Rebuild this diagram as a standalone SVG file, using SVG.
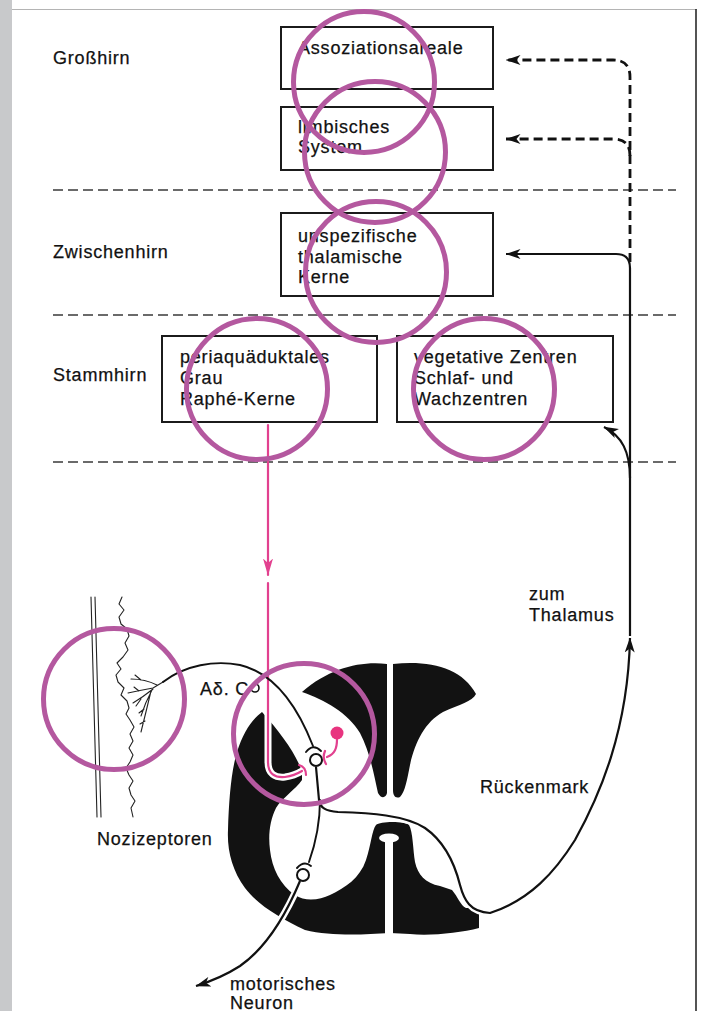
<svg xmlns="http://www.w3.org/2000/svg" width="702" height="1011" viewBox="0 0 702 1011">
  <defs>
    <style>
      .t{font-family:"Liberation Sans",Arial,Helvetica,sans-serif;font-size:18px;fill:#111;stroke:#111;stroke-width:0.25;letter-spacing:0.8px}
      .box{fill:#fff;stroke:#1b1b1b;stroke-width:2}
      .sep{fill:none;stroke:#3a3a3a;stroke-width:1.6;stroke-dasharray:10 5}
      .dash{fill:none;stroke:#111;stroke-width:2.8;stroke-dasharray:9 5}
      .solid{fill:none;stroke:#111;stroke-width:2.2}
      .case{fill:none;stroke:#fff;stroke-width:7;stroke-linecap:round}
      .nerve{fill:none;stroke:#111;stroke-width:1.9;stroke-linecap:round}
      .fine{fill:none;stroke:#222;stroke-width:1.1;stroke-linecap:round;stroke-linejoin:round}
      .pink{fill:none;stroke:#e2418f;stroke-width:2.2;stroke-linecap:round}
      .gm{fill:#121212}
      .cell{fill:#fff;stroke:#111;stroke-width:2}
      .ring{fill:none;stroke:#b4589f;stroke-width:5}
    </style>
    <marker id="ah" viewBox="0 0 15 11" refX="14.5" refY="5.5" markerWidth="15" markerHeight="11" markerUnits="userSpaceOnUse" orient="auto">
      <path d="M0,0.5 L15,5.5 L0,10.5 L4,5.5 Z" fill="#111"/>
    </marker>
    <marker id="ahp" viewBox="0 0 17 11" refX="16.5" refY="5.5" markerWidth="17" markerHeight="11" markerUnits="userSpaceOnUse" orient="auto">
      <path d="M0,0.5 L17,5.5 L0,10.5 L4.5,5.5 Z" fill="#e2418f"/>
    </marker>
  </defs>

  <!-- page -->
  <rect x="0" y="0" width="702" height="1011" fill="#fff"/>
  <rect x="0" y="0" width="12" height="1011" fill="#c8c9cb"/>
  <line x1="12" y1="9.5" x2="697" y2="9.5" stroke="#b4b4b4" stroke-width="1.2"/>
  <line x1="696" y1="9" x2="696" y2="1011" stroke="#2a2a2a" stroke-width="1.6"/>

  <!-- level separators -->
  <g id="separators">
    <line class="sep" x1="53" y1="190" x2="676" y2="190"/>
    <line class="sep" x1="53" y1="315" x2="676" y2="315"/>
    <line class="sep" x1="53" y1="462" x2="676" y2="462"/>
  </g>

  <!-- level labels -->
  <g id="levels">
    <text class="t" x="53" y="64">Großhirn</text>
    <text class="t" x="53" y="258">Zwischenhirn</text>
    <text class="t" x="53" y="381">Stammhirn</text>
  </g>

  <!-- boxes -->
  <g id="assoziationsareale">
    <rect class="box" x="281" y="27" width="212" height="62"/>
    <text class="t" x="298" y="54">Assoziationsareale</text>
  </g>
  <g id="limbisches-system">
    <rect class="box" x="281" y="107" width="212" height="63"/>
    <text class="t" x="298" y="133">limbisches</text>
    <text class="t" x="298" y="153">System</text>
  </g>
  <g id="thalamische-kerne">
    <rect class="box" x="281" y="213" width="212" height="83"/>
    <text class="t" x="298" y="242">unspezifische</text>
    <text class="t" x="298" y="263">thalamische</text>
    <text class="t" x="298" y="283">Kerne</text>
  </g>
  <g id="periaquaeduktales-grau">
    <rect class="box" x="162" y="336" width="215" height="86"/>
    <text class="t" x="180" y="363">periaquäduktales</text>
    <text class="t" x="180" y="384">Grau</text>
    <text class="t" x="180" y="405">Raphé-Kerne</text>
  </g>
  <g id="vegetative-zentren">
    <rect class="box" x="397" y="336" width="216" height="86"/>
    <text class="t" x="414" y="363">vegetative Zentren</text>
    <text class="t" x="414" y="384">Schlaf- und</text>
    <text class="t" x="414" y="405">Wachzentren</text>
  </g>

  <!-- skin with nociceptor endings -->
  <g id="nozizeptoren">
    <line class="fine" x1="91" y1="597" x2="97" y2="817" stroke-width="1.4"/>
    <line class="fine" x1="95" y1="597" x2="101" y2="817" stroke-width="1.4"/>
    <polyline class="fine" stroke-width="1.4" points="122,597 119,604 124,610 119,617 121,624 127,629 129,636 125,643 128,650 123,657 117,663 121,669 116,675 118,682 124,688 121,695 127,701 129,708 126,714 130,720 134,727 130,734 133,741 129,748 133,755 130,762 126,768 129,775 133,781 129,788 131,795 135,801 131,808 133,817"/>
    <path class="fine" d="M163,682 L153,688 M157,685 Q145,679 131,679 M153,688 Q142,690 128,693 M153,689 Q143,697 133,703 M152,690 Q145,703 141,716 M151,691 Q146,712 141,732 M141,680 L135,675 M139,691 L134,687 M141,699 L136,706 M144,709 L139,713 M145,721 L140,724"/>
    <text class="t" x="97" y="845">Nozizeptoren</text>
  </g>

  <!-- spinal cord cross-section -->
  <g id="rueckenmark">
    <path class="gm" d="M387,664 C360,661 330,668 302,692 C325,700 348,713 360,733 C370,752 374,775 378,793 C381,799 386,798 387,793 Z"/>
    <path class="gm" d="M393,664 C430,660 462,668 476,694 C472,702 460,704 443,712 C425,722 415,742 410,765 C407,780 405,792 400,797 C395,799 393,795 393,790 Z"/>
    <path class="gm" d="M262,712 C280,732 297,755 302,772 L302,780 C295,790 282,798 276,808 C270,820 268,835 270,850 C272,868 280,885 295,895 C305,902 320,900 330,895 C345,888 360,878 366,860 C371,845 372,830 376,825 C380,821 405,821 409,825 C413,832 413,850 415,862 C418,875 425,883 440,886 L452,890 C458,897 460,905 466,908 L479,908 L479,928 C460,933 430,936 410,934 L390,933 C360,935 330,936 305,930 C280,918 258,905 245,888 C232,870 227,850 228,830 C229,800 231,772 237,752 C243,733 251,720 262,712 Z"/>
    <ellipse cx="389" cy="838" rx="10" ry="4.5" fill="#fff"/>
    <rect x="385" y="838" width="8" height="100" fill="#fff"/>
    <text class="t" x="480" y="793">Rückenmark</text>
  </g>

  <!-- pathways -->
  <g id="connectors">
    <!-- cortical projections (dashed) -->
    <path class="dash" d="M630,262 L630,77 Q630,60 613,60 L506,60" marker-end="url(#ah)"/>
    <path class="dash" d="M630,156 Q630,139 614,139 L506,139" marker-end="url(#ah)"/>
    <!-- thalamic projection -->
    <path class="solid" d="M630,636 L630,268 Q630,254 616,254 L506,254" marker-end="url(#ah)"/>
    <path class="solid" d="M630,478 C630,452 622,436 604,427" marker-end="url(#ah)"/>

    <!-- descending inhibition -->
    <path class="pink" d="M268,425 L268,575" marker-end="url(#ahp)"/>
    <path class="case" d="M268,700 L268,762 C268,774 275,778 285,777 C292,776 297,774 302,771"/>
    <path class="pink" d="M268,583 L268,762 C268,774 275,778 285,777 C292,776 297,774 302,771"/>
    <path class="pink" d="M299,765 Q306,767 306,775"/>

    <!-- afferent fibre -->
    <path class="nerve" d="M163,682 C185,665 215,660 240,665 C270,672 295,700 313,746"/>
    <path class="nerve" d="M306,752 Q313,743 321,751"/>
    <circle cx="255" cy="688" r="4" fill="#fff" stroke="#111" stroke-width="1.6"/>
    <text class="t" x="200" y="695">Aδ. C</text>

    <!-- ascending axon to thalamus -->
    <path class="case" d="M319,790 L319,800 C320,808 326,811 338,812 C370,813 405,815 425,828 C445,842 455,865 460,885 C464,900 470,912 490,913 C530,900 555,872 575,840"/>
    <path class="case" d="M320,800 C320,825 315,845 309,860"/>
    <path class="case" d="M300,882 C290,905 270,945 240,966"/>
    <path class="solid" d="M316,767 L319,800 C320,808 326,811 338,812 C370,813 405,815 425,828 C445,842 455,865 460,885 C464,900 470,912 490,913 C530,900 555,872 575,840 C600,795 628,730 630,638" marker-end="url(#ah)"/>
    <text class="t" x="529" y="600">zum</text>
    <text class="t" x="529" y="621">Thalamus</text>

    <!-- branch to motor neuron -->
    <path class="nerve" d="M320,800 C320,825 315,845 309,862"/>
    <path class="nerve" d="M297,868 Q304,860 311,866"/>
    <path class="solid" d="M300,881 C290,905 270,945 240,966 C226,975 212,981 196,986" marker-end="url(#ah)"/>
    <text class="t" x="230" y="990">motorisches</text>
    <text class="t" x="230" y="1009">Neuron</text>

    <!-- interneuron -->
    <path class="pink" d="M337,739 C337,748 335,754 327,757"/>
    <path class="pink" d="M325,751 Q322,758 326,764"/>
    <circle cx="337" cy="733" r="6.5" fill="#e8347f"/>

    <!-- projection and motor neurons -->
    <circle class="cell" cx="316" cy="760" r="6"/>
    <circle class="cell" cx="303" cy="875" r="6"/>
  </g>

  <!-- highlight rings -->
  <g id="rings">
    <circle class="ring" cx="364" cy="82" r="70.5"/>
    <circle class="ring" cx="375" cy="152" r="70.5"/>
    <circle class="ring" cx="376" cy="272" r="70.5"/>
    <circle class="ring" cx="257" cy="389" r="70.5"/>
    <circle class="ring" cx="484" cy="389" r="70.5"/>
    <circle class="ring" cx="114" cy="699" r="70.5"/>
    <circle class="ring" cx="304" cy="734" r="70.5"/>
  </g>
</svg>
